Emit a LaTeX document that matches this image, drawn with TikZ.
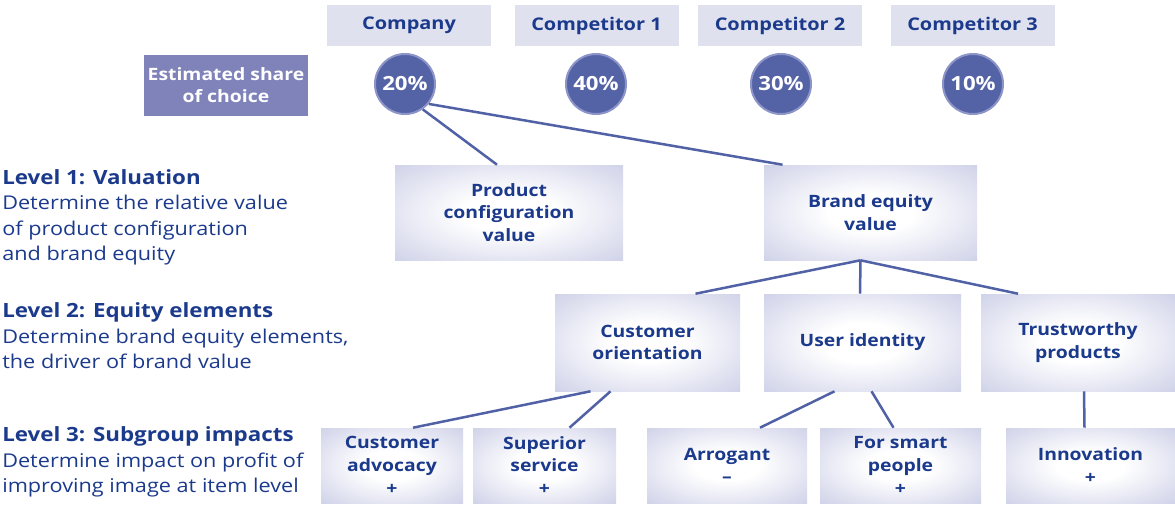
\documentclass[tikz,border=0pt]{standalone}
\usepackage{fontspec}
\setmainfont{Open Sans}[FakeStretch=1.14]
\usetikzlibrary{shapes, positioning}
\definecolor{txtblue}{RGB}{27,58,140}
\definecolor{headfill}{RGB}{223,225,239}
\definecolor{sharefill}{RGB}{127,131,186}
\definecolor{circfill}{RGB}{84,98,166}
\definecolor{circborder}{RGB}{140,148,200}
\definecolor{linecol}{RGB}{81,97,166}
\definecolor{boxfill}{RGB}{194,197,226}
\pgfdeclareradialshading{boxshade}{\pgfpoint{0bp}{0bp}}{color(0bp)=(white); color(10bp)=(white); color(43bp)=(boxfill); color(50bp)=(boxfill)}
\newcommand{\lvltitle}[1]{{\bfseries\fontsize{19.6}{25.5}\selectfont #1}}

\begin{document}
\begin{tikzpicture}[x=1pt, y=-1pt, semithick]
\tikzstyle{head}=[fill=headfill, text=txtblue, font=\bfseries\fontsize{17.5}{22}\selectfont, minimum width=164pt, minimum height=41pt, inner sep=0pt]
\tikzstyle{share}=[fill=sharefill, text=white, align=center, font=\bfseries\fontsize{17}{22}\selectfont, minimum width=164pt, minimum height=61pt, inner sep=0pt]
\tikzstyle{pct}=[circle, fill=circfill, draw=circborder, line width=2pt, text=white, font=\bfseries\fontsize{19.5}{22}\selectfont, minimum size=60pt, inner sep=0pt]
\tikzstyle{valbox}=[shading=boxshade, text=txtblue, align=center, font=\bfseries\fontsize{17}{22.7}\selectfont, inner sep=0pt]
\tikzstyle{lvl}=[text=txtblue, align=left, font=\fontsize{19}{25.5}\selectfont, inner sep=0pt]
\tikzstyle{link}=[draw=linecol, line width=2.5pt]
\useasboundingbox (0,0) rectangle (1175,506);

\node[head] (comp)  at (409,25.5)   {Company};
\node[head] (comp1) at (596.5,25.5) {Competitor 1};
\node[head] (comp2) at (780,25.5)   {Competitor 2};
\node[head] (comp3) at (972.5,25.5) {Competitor 3};

\node[share] (share) at (226,85.5) {Estimated share\\of choice};
\node[pct] (pct0) at (405,84) {20\%};
\node[pct] (pct1) at (596,84) {40\%};
\node[pct] (pct2) at (781,84) {30\%};
\node[pct] (pct3) at (973,84) {10\%};

\node[lvl, anchor=base west] (lv1) at (2,260.8) {\lvltitle{Level 1: Valuation}\\Determine the relative value\\of product configuration\\and brand equity};
\node[lvl, anchor=base west] (lv2) at (2,368.7) {\lvltitle{Level 2: Equity elements}\\Determine brand equity elements,\\the driver of brand value};
\node[lvl, anchor=base west] (lv3) at (2,492.7) {\lvltitle{Level 3: Subgroup impacts}\\Determine impact on profit of\\improving image at item level};

\node[valbox, minimum width=228pt, minimum height=95pt] (prod)  at (509,212.5)   {Product\\configuration\\value};
\node[valbox, minimum width=213pt, minimum height=95pt] (brand) at (870.5,212.5) {Brand equity\\value};

\node[valbox, minimum width=185pt, minimum height=97pt] (custor) at (647.5,342.5) {Customer\\orientation};
\node[valbox, minimum width=197pt, minimum height=97pt] (userid) at (862.5,342.5) {User identity};
\node[valbox, minimum width=194pt, minimum height=97pt] (trust)  at (1078,342.5)  {Trustworthy\\products};

\node[valbox, minimum width=142pt, minimum height=75pt] (cadv)  at (392,465.5)    {Customer\\advocacy\\+};
\node[valbox, minimum width=143pt, minimum height=75pt] (sserv) at (544.5,465.5)  {Superior\\service\\+};
\node[valbox, minimum width=160pt, minimum height=75pt] (arrog) at (727,465.5)    {Arrogant\\–};
\node[valbox, minimum width=161pt, minimum height=75pt] (smart) at (900.5,465.5)  {For smart\\people\\+};
\node[valbox, minimum width=169pt, minimum height=75pt] (innov) at (1090.5,465.5) {Innovation\\+};

\path[link]
(pct0.-40) edge ([xshift=-88pt]brand.north)
(pct0.-55) edge ([xshift=-12pt]prod.north)
([xshift=-10pt]brand.south) edge ([xshift=48pt]custor.north)
([xshift=-10pt]brand.south) edge ([xshift=-2.5pt]userid.north)
([xshift=-10pt]brand.south) edge ([xshift=-60pt]trust.north)
([xshift=-57pt]custor.south) edge ([xshift=21pt]cadv.north)
([xshift=-37pt]custor.south) edge ([xshift=25pt]sserv.north)
([xshift=-28pt]userid.south) edge ([xshift=33pt]arrog.north)
([xshift=9pt]userid.south) edge ([xshift=-7pt]smart.north)
([xshift=6pt]trust.south) edge ([xshift=-6pt]innov.north);
\end{tikzpicture}
\end{document}
